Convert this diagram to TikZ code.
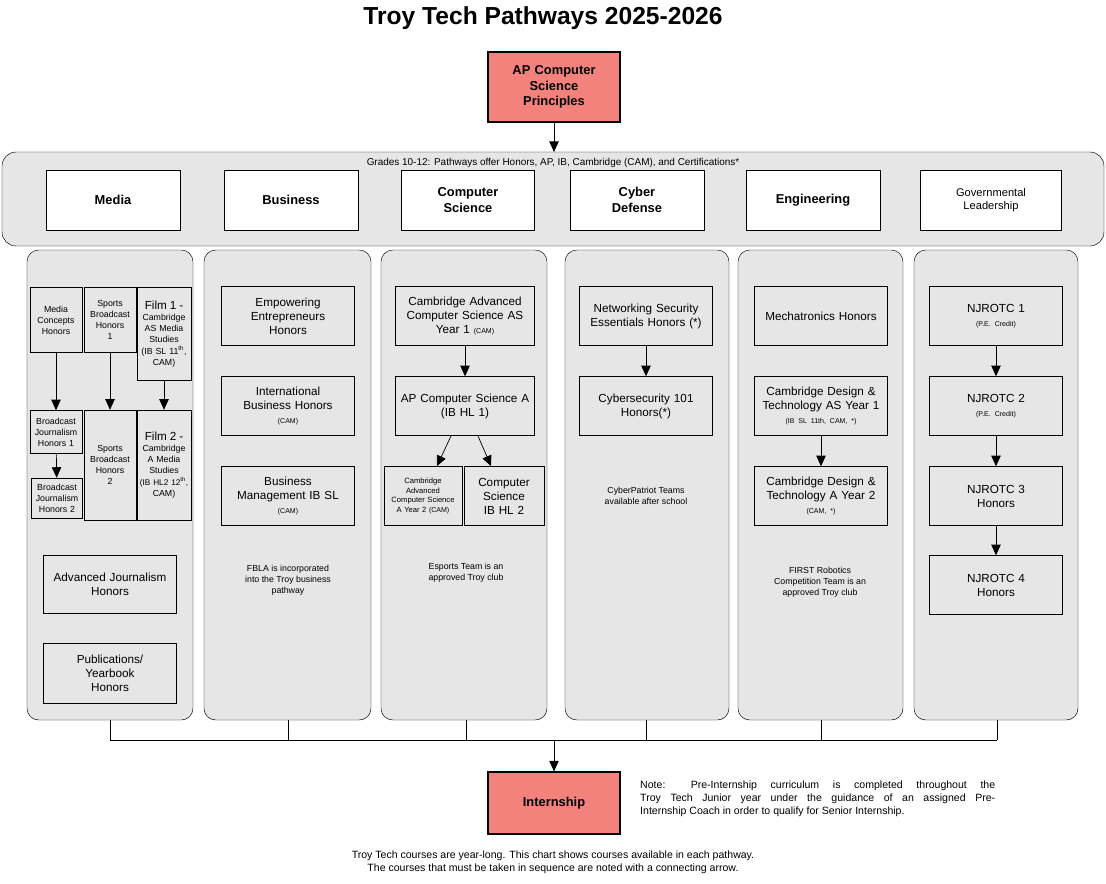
\documentclass[tikz,border=0pt]{standalone}
\usepackage{fontspec}
\setmainfont{Liberation Sans}
\usetikzlibrary{arrows.meta}
\definecolor{salmon}{HTML}{F4827C}
\definecolor{panel}{HTML}{E6E6E6}
\newcommand{\cam}[1]{{\fontsize{6}{7}\selectfont #1}}
\begin{document}
\begin{tikzpicture}[
    x=0.03cm, y=-0.03cm,
    font=\fontsize{10}{12}\selectfont,
    course/.style 2 args={draw, fill=panel, align=center, inner sep=1pt,
        minimum width=#1*0.03cm, minimum height=#2*0.03cm, text width=#1*0.03cm-3pt},
    head/.style={course={#1}{60}, fill=white, font=\fontsize{11}{13}\selectfont\bfseries},
    key/.style={course={132}{#1}, fill=salmon, line width=1pt, font=\fontsize{11}{13}\selectfont\bfseries},
    pathway/.style={draw, fill=panel, rounded corners=10pt},
    small/.style={font=\fontsize{7.5}{9.5}\selectfont},
    note/.style={align=center, font=\fontsize{7.5}{9.5}\selectfont},
    arr/.style={-{Triangle[length=9pt,width=8pt]}, semithick},
    link/.style={semithick}
]
    \useasboundingbox (0,0) rectangle (1106,883);

    % Title
    \node[font=\fontsize{21}{24}\selectfont\bfseries] (title) at (543,18) {Troy Tech Pathways 2025-2026};
    \node[key={70}] (apcsp) at (554,87) {AP Computer\\Science\\Principles};

    % Band
    \draw[pathway, rounded corners=12pt] (2,152) rectangle (1104,246);
    \node[font=\fontsize{8.5}{10}\selectfont] (band) at (553,163) {Grades 10-12: Pathways offer Honors, AP, IB, Cambridge (CAM), and Certifications*};
    \draw[arr] (apcsp) -- (554,152);
    \node[head={134}] (media) at (113,200) {Media};
    \node[head={134}] (biz) at (291,200) {Business};
    \node[head={133}] (cs) at (468,200) {Computer\\Science};
    \node[head={134}] (cyber) at (637,200) {Cyber\\Defense};
    \node[head={134}] (eng) at (813,200) {Engineering};
    \node[head={141}, font=\fontsize{9.5}{11}\selectfont] (gov) at (991,200) {Governmental\\Leadership};

    % Pathway panels
    \draw[pathway] (27,250) rectangle (193,720);
    \draw[pathway] (204,250) rectangle (371,720);
    \draw[pathway] (381,250) rectangle (547,720);
    \draw[pathway] (565,250) rectangle (729,720);
    \draw[pathway] (738,250) rectangle (903,720);
    \draw[pathway] (914,250) rectangle (1078,720);

    % Media
    \node[course={52}{65}, small] (mc) at (56,320) {Media\\Concepts\\Honors};
    \node[course={52}{65}, small] (sb1) at (110,320) {Sports\\Broadcast\\Honors\\1};
    \node[course={54}{93}, small] (film1) at (164,334) {{\fontsize{10}{11}\selectfont Film 1 -}\\Cambridge\\AS Media\\Studies\\(IB SL 11\textsuperscript{th},\\CAM)};
    \node[course={52}{43}, small] (bj1) at (56,432) {Broadcast\\Journalism\\Honors 1};
    \node[course={51}{40}, small] (bj2) at (57,498) {Broadcast\\Journalism\\Honors 2};
    \node[course={52}{110}, small] (sb2) at (110,465) {Sports\\Broadcast\\Honors\\2};
    \node[course={54}{110}, small, inner sep=0pt, text width=54*0.03cm] (film2) at (164,465) {{\fontsize{10}{11}\selectfont Film 2 -}\\Cambridge\\A Media\\Studies\\{\fontsize{7}{9}\selectfont(IB~HL2~12\textsuperscript{th},}\\CAM)};
    \node[course={133}{58}] (advj) at (110,584) {Advanced Journalism\\Honors};
    \node[course={133}{60}] (pub) at (110,673) {Publications/\\Yearbook\\Honors};
    \draw[arr] (mc) -- (bj1);
    \draw[arr] (sb1) -- (sb2);
    \draw[arr] (film1) -- (film2);
    \draw[arr] (bj1) -- (bj2);

    % Business
    \node[course={133}{59}] (emp) at (288,316) {Empowering\\Entrepreneurs\\Honors};
    \node[course={133}{59}] (intl) at (288,406) {International\\Business Honors\\\cam{(CAM)}};
    \node[course={133}{59}] (bm) at (288,496) {Business\\Management IB SL\\\cam{(CAM)}};
    \node[note] (fbla) at (288,580) {FBLA is incorporated\\into the Troy business\\pathway};

    % Computer Science
    \node[course={139}{59}] (camas) at (465,316) {Cambridge Advanced\\Computer Science AS\\Year 1 \cam{(CAM)}};
    \node[course={139}{59}] (apcsa) at (465,406) {AP Computer Science A\\(IB HL 1)};
    \node[course={78}{59}, font=\fontsize{6.5}{8}\selectfont] (cama2) at (423,496) {Cambridge\\Advanced\\Computer Science\\A Year 2 \cam{(CAM)}};
    \node[course={80}{59}] (cshl2) at (504,496) {Computer\\Science\\IB HL 2};
    \node[note] (esports) at (466,573) {Esports Team is an\\approved Troy club};
    \draw[arr] (camas) -- (apcsa);
    \draw[arr] (apcsa) -- (cama2);
    \draw[arr] (apcsa) -- (cshl2);

    % Cyber Defense
    \node[course={133}{59}] (net) at (646,316) {Networking Security\\Essentials Honors (*)};
    \node[course={133}{59}] (cyb101) at (646,406) {Cybersecurity 101\\Honors(*)};
    \node[note] (cp) at (646,496) {CyberPatriot Teams\\available after school};
    \draw[arr] (net) -- (cyb101);

    % Engineering
    \node[course={133}{59}] (mech) at (821,316) {Mechatronics Honors};
    \node[course={133}{59}] (dt1) at (821,406) {Cambridge Design \&\\Technology AS Year 1\\\cam{(IB SL 11th, CAM, *)}};
    \node[course={133}{59}] (dt2) at (821,496) {Cambridge Design \&\\Technology A Year 2\\\cam{(CAM, *)}};
    \node[note] (first) at (820,582) {FIRST Robotics\\Competition Team is an\\approved Troy club};
    \draw[arr] (dt1) -- (dt2);

    % Governmental Leadership
    \node[course={133}{59}] (nj1) at (996,316) {NJROTC 1\\\cam{(P.E. Credit)}};
    \node[course={133}{59}] (nj2) at (996,406) {NJROTC 2\\\cam{(P.E. Credit)}};
    \node[course={133}{59}] (nj3) at (996,496) {NJROTC 3\\Honors};
    \node[course={133}{59}] (nj4) at (996,585) {NJROTC 4\\Honors};
    \draw[arr] (nj1) -- (nj2);
    \draw[arr] (nj2) -- (nj3);
    \draw[arr] (nj3) -- (nj4);

    % Internship
    \node[key={62}] (intern) at (554,803) {Internship};
    \coordinate (bus) at (554,740);
    \foreach \x in {110,288,466,646,821,997}
        \draw[link] (\x,720) -- (\x,740);
    \draw[link] (110,740) -- (997,740);
    \draw[arr] (bus) -- (intern);
    \node[text width=355*0.03cm, align=justify, inner sep=0pt, font=\fontsize{9}{11}\selectfont, anchor=north west] (note) at (640,781) {Note: Pre-Internship curriculum is completed throughout the\linebreak Troy Tech Junior year under the guidance of an assigned Pre-\linebreak Internship Coach in order to qualify for Senior Internship.};
    \node[align=center, font=\fontsize{9}{11}\selectfont] (foot) at (553,862) {Troy Tech courses are year-long. This chart shows courses available in each pathway.\\The courses that must be taken in sequence are noted with a connecting arrow.};
\end{tikzpicture}
\end{document}
